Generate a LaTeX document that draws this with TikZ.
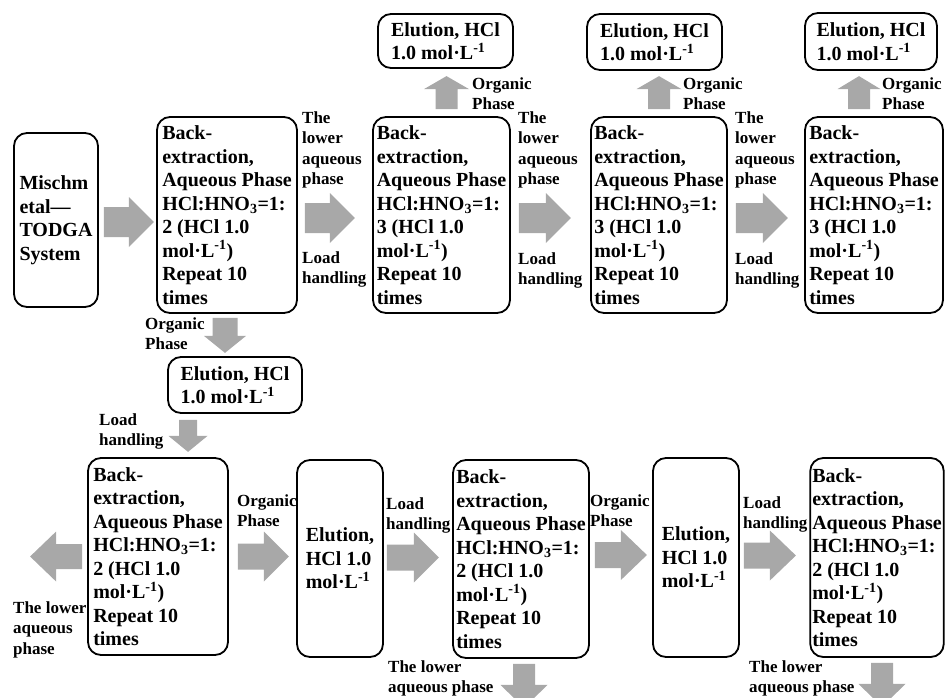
\documentclass[tikz,border=0pt]{standalone}
\usepackage{fontspec}
\setmainfont{Liberation Serif}
\definecolor{arrowgray}{RGB}{168,168,168}
\tikzset{
  box/.style={draw, line width=1.8pt, rounded corners=13pt, align=left, inner sep=2pt,
    font=\fontsize{20}{23.5}\selectfont\bfseries},
  lbl/.style={anchor=north west, align=left, inner sep=0pt,
    font=\fontsize{17}{20.5}\selectfont\bfseries},
  pics/fat/.style n args={4}{code={
    \fill[arrowgray] (0,-#2/2) -- (#1-#4,-#2/2) -- (#1-#4,-#3/2) -- (#1,0)
      -- (#1-#4,#3/2) -- (#1-#4,#2/2) -- (0,#2/2) -- cycle;
  }}
}
\newcommand{\backext}[1]{Back-\\extraction,\\Aqueous Phase\\HCl:HNO\textsubscript{3}=1:\\#1 (HCl 1.0\\mol·L\textsuperscript{-1})\\Repeat 10\\times}
\begin{document}
\begin{tikzpicture}[x=1pt,y=-1pt]
\useasboundingbox (0,0) rectangle (945,697);
\node[box, minimum width=84pt, minimum height=174pt] (M) at (56,220) {Mischm\\etal—\\TODGA\\System};
\node[box, minimum width=140pt, minimum height=196pt] (B1) at (227,215) {\backext{2}};
\node[box, minimum width=137pt, minimum height=196pt] (B2) at (441.5,215) {\backext{3}};
\node[box, minimum width=136pt, minimum height=196pt] (B3) at (659,215) {\backext{3}};
\node[box, minimum width=138pt, minimum height=196pt] (B4) at (874,215) {\backext{3}};
\node[box, minimum width=135pt, minimum height=54pt] (T1) at (445.5,41) {Elution, HCl\\1.0 mol·L\textsuperscript{-1}};
\node[box, minimum width=135pt, minimum height=56pt] (T2) at (654.5,42) {Elution, HCl\\1.0 mol·L\textsuperscript{-1}};
\node[box, minimum width=132pt, minimum height=57pt] (T3) at (871,41.5) {Elution, HCl\\1.0 mol·L\textsuperscript{-1}};
\node[box, minimum width=134pt, minimum height=56pt] (T0) at (235,385) {Elution, HCl\\1.0 mol·L\textsuperscript{-1}};
\node[box, minimum width=140pt, minimum height=197pt] (B5) at (158,556.5) {\backext{2}};
\node[box, minimum width=86pt, minimum height=197pt] (E1) at (340,558.5) {Elution,\\HCl 1.0\\mol·L\textsuperscript{-1}};
\node[box, minimum width=136pt, minimum height=198pt] (B6) at (521,559) {\backext{2}};
\node[box, minimum width=86pt, minimum height=199pt] (E2) at (696,557.5) {Elution,\\HCl 1.0\\mol·L\textsuperscript{-1}};
\node[box, minimum width=133pt, minimum height=199pt] (B7) at (877,557.5) {\backext{2}};
\pic at ([xshift=5pt,yshift=-2pt]M.east) {fat={50}{30}{50}{25}};
\pic at ([xshift=7pt,yshift=-3pt]B1.east) {fat={50}{30}{50}{25}};
\pic at ([xshift=8pt,yshift=-3pt]B2.east) {fat={52}{30}{50}{25}};
\pic at ([xshift=8pt,yshift=-3pt]B3.east) {fat={52}{30}{50}{25}};
\pic[rotate=90] at ([xshift=5pt,yshift=7pt]B2.north) {fat={33}{22}{45}{13}};
\pic[rotate=90] at ([yshift=7pt]B3.north) {fat={33}{22}{45}{13}};
\pic[rotate=90] at ([xshift=-15pt,yshift=7pt]B4.north) {fat={33}{22}{43}{13}};
\pic[rotate=-90] at ([xshift=-2pt,yshift=-4pt]B1.south) {fat={35}{25}{42}{17}};
\pic[rotate=-90] at ([xshift=-47pt,yshift=-6pt]T0.south) {fat={32}{18}{39}{16}};
\pic[rotate=180] at ([xshift=-5pt]B5.west) {fat={52}{25}{50}{26}};
\pic at ([xshift=9pt]B5.east) {fat={51}{26}{50}{25}};
\pic at ([xshift=3pt,yshift=1pt]E1.east) {fat={52}{26}{50}{25}};
\pic at ([xshift=5pt,yshift=4pt]B6.east) {fat={52}{26}{50}{26}};
\pic at ([xshift=4pt,yshift=2pt]E2.east) {fat={52}{26}{50}{26}};
\pic[rotate=-90] at ([xshift=3pt,yshift=-5pt]B6.south) {fat={44}{22}{47}{23}};
\pic[rotate=-90] at ([xshift=5pt,yshift=-5pt]B7.south) {fat={44}{22}{47}{23}};
\node[lbl] (la1) at (302,111) {The\\lower\\aqueous\\phase};
\node[lbl] (lb1) at (302,251) {Load\\handling};
\node[lbl] (la2) at (518,111) {The\\lower\\aqueous\\phase};
\node[lbl] (lb2) at (518,252) {Load\\handling};
\node[lbl] (la3) at (735,111) {The\\lower\\aqueous\\phase};
\node[lbl] (lb3) at (735,252) {Load\\handling};
\node[lbl] (o1) at (472,77) {Organic\\Phase};
\node[lbl] (o2) at (683,77) {Organic\\Phase};
\node[lbl] (o3) at (882,77) {Organic\\Phase};
\node[lbl] (o0) at (145,317) {Organic\\Phase};
\node[lbl] (lh0) at (99,413) {Load\\handling};
\node[lbl] (lw0) at (13,601) {The lower\\aqueous\\phase};
\node[lbl] (o4) at (237,494) {Organic\\Phase};
\node[lbl] (lh1) at (386,497) {Load\\handling};
\node[lbl] (o5) at (590,494) {Organic\\Phase};
\node[lbl] (lh2) at (743,496) {Load\\handling};
\node[lbl] (lw1) at (388,660) {The lower\\aqueous phase};
\node[lbl] (lw2) at (749,660) {The lower\\aqueous phase};
\end{tikzpicture}
\end{document}
